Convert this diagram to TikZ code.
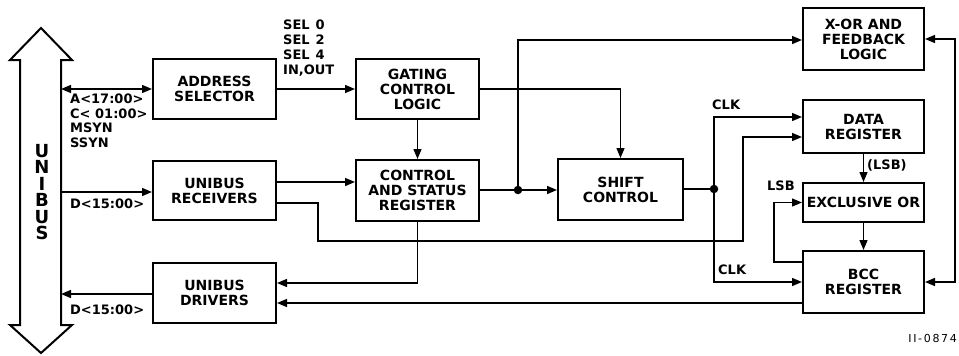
\documentclass[tikz,border=0pt]{standalone}
\usepackage{fontspec}
\setmainfont{DejaVu Sans}
\usetikzlibrary{arrows.meta}
\begin{document}
\begin{tikzpicture}[x=1pt,y=-1pt,
  blk/.style={draw, line width=2pt, align=center, inner sep=0pt,
    font=\bfseries\fontsize{14}{15}\selectfont},
  conn/.style={line width=1.4pt},
  arr/.style={conn, -{Triangle[length=10pt,width=8pt]}},
  darr/.style={conn, {Triangle[length=10pt,width=8pt]}-{Triangle[length=10pt,width=8pt]}},
  lbl/.style={inner sep=0pt, align=left, font=\bfseries\fontsize{13}{14.5}\selectfont},
  dot/.style={circle, fill, inner sep=0pt, minimum size=8.5pt}]
\useasboundingbox (0,0) rectangle (959,356);
% UNIBUS double arrow
\draw[line width=2pt, line join=miter]
  (41,28) -- (72,60) -- (61,60) -- (61,325) -- (72,325) -- (41,353)
  -- (10,325) -- (20,325) -- (20,60) -- (10,60) -- cycle;
\node[inner sep=0pt, align=center, font=\bfseries\fontsize{18}{16.4}\selectfont] (ubl) at (42,192) {U\\N\\I\\B\\U\\S};
\coordinate (ub1) at (61,89);
\coordinate (ub2) at (61,192);
\coordinate (ub3) at (61,294);
% boxes
\node[blk, minimum width=123pt, minimum height=60pt] (as) at (214.5,89) {ADDRESS\\SELECTOR};
\node[blk, minimum width=123pt, minimum height=59pt] (rx) at (214.5,190.5) {UNIBUS\\RECEIVERS};
\node[blk, minimum width=123pt, minimum height=60pt] (dr) at (214.5,293) {UNIBUS\\DRIVERS};
\node[blk, minimum width=123pt, minimum height=60pt] (gc) at (417.5,89) {GATING\\CONTROL\\LOGIC};
\node[blk, minimum width=123pt, minimum height=61pt] (csr) at (417.5,190.5) {CONTROL\\AND STATUS\\REGISTER};
\node[blk, minimum width=125pt, minimum height=61pt] (sc) at (620.5,189.5) {SHIFT\\CONTROL};
\node[blk, minimum width=121pt, minimum height=62pt] (xo) at (863.5,39) {X-OR AND\\FEEDBACK\\LOGIC};
\node[blk, minimum width=121pt, minimum height=53pt] (dreg) at (863.5,126.5) {DATA\\REGISTER};
\node[blk, minimum width=121pt, minimum height=39pt] (eor) at (863.5,202.5) {EXCLUSIVE OR};
\node[blk, minimum width=121pt, minimum height=62pt] (bcc) at (863.5,282) {BCC\\REGISTER};
% junctions
\node[dot] (j1) at (518,190) {};
\node[dot] (j2) at (714,189) {};
% connectors
\draw[darr] (ub1) -- (as.west);
\draw[arr] (as.east) -- (gc.west);
\draw[arr] (ub2) -- (ub2 -| rx.west);
\draw[arr] (dr.west |- ub3) -- (ub3);
\draw[arr] (gc.south) -- (csr.south |- csr.north);
\draw[arr] (rx.east |- 0,182) -- (csr.west |- 0,182);
\draw[arr] (rx.east |- 0,203) -- (318,203) -- (318,241) -- (743,241) -- (743,137) -- (dreg.west |- 0,137);
\draw[arr] (csr.south) -- (417.5,283) -- (dr.east |- 0,283);
\draw[arr] (bcc.west |- 0,303) -- (dr.east |- 0,303);
\draw[conn] (csr.east |- j1) -- (j1);
\draw[arr] (j1) -- (j1 -| sc.west);
\draw[arr] (j1) -- (518,40) -- (xo.west |- 0,40);
\draw[arr] (gc.east) -| (sc.north);
\draw[conn] (sc.east |- j2) -- (j2);
\draw[arr] (j2) -- (714,117) -- (dreg.west |- 0,117);
\draw[arr] (j2) -- (714,282) -- (bcc.west |- 0,282);
\draw[arr] (dreg.south) -- (eor.north);
\draw[arr] (eor.south) -- (bcc.north);
\draw[arr] (bcc.west |- 0,262) -- (774,262) -- (774,202.5) -- (eor.west);
\draw[darr] (xo.east) -- (955,39) -- (955,282) -- (bcc.east);
% labels
\node[lbl, anchor=north west, font=\bfseries\fontsize{13}{15}\selectfont] (sel) at (283,20) {SEL\hspace{6pt}0\\SEL\hspace{6pt}2\\SEL\hspace{6pt}4\\IN,OUT};
\node[lbl, anchor=north west, font=\bfseries\fontsize{13}{14.5}\selectfont] (asig) at (70,94) {A<17:00>\\C< 01:00>\\MSYN\\SSYN};
\node[lbl, anchor=west] (d1) at (70,204) {D<15:00>};
\node[lbl, anchor=west] (d2) at (70,310) {D<15:00>};
\node[lbl, anchor=west] (clk1) at (712,105) {CLK};
\node[lbl, anchor=west] (clk2) at (718,270) {CLK};
\node[lbl, anchor=west] (lsb1) at (867,165) {(LSB)};
\node[lbl, anchor=west] (lsb2) at (767,186) {LSB};
\node[lbl, anchor=east, font=\fontsize{11}{12}\selectfont\addfontfeature{LetterSpace=15}] (fig) at (957,338) {II-0874};
\end{tikzpicture}
\end{document}
